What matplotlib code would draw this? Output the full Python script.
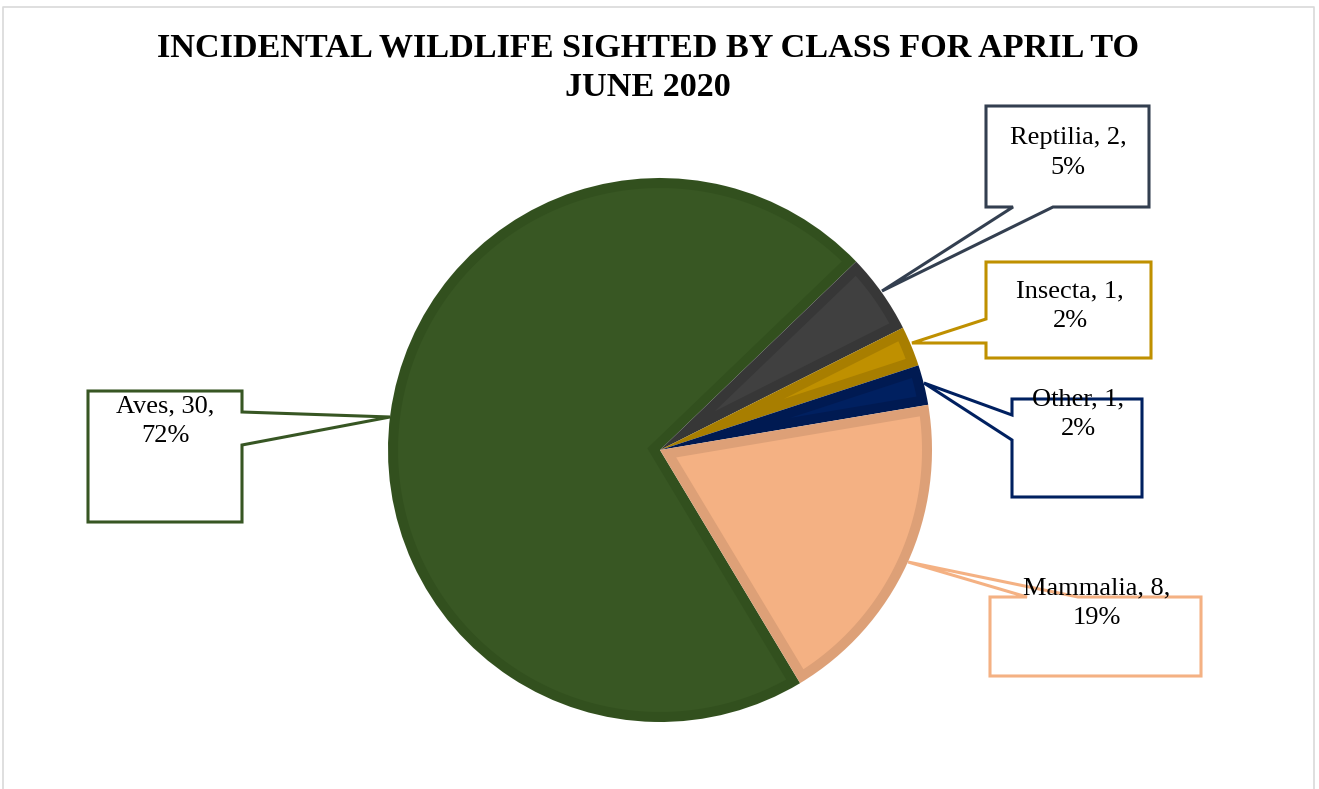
import numpy as np
import matplotlib.pyplot as plt
from matplotlib.patches import Polygon

W, H = 1319, 789

classes = ["Aves", "Reptilia", "Insecta", "Other", "Mammalia"]
counts = [30, 2, 1, 1, 8]
pct_labels = ["72%", "5%", "2%", "2%", "19%"]

fill_colors = ["#385723", "#404040", "#bf9000", "#002060", "#f4b183"]
rim_colors = ["#32501e", "#373737", "#a87e00", "#001a52", "#dda077"]
box_colors = ["#375623", "#333f50", "#bf9000", "#002060", "#f4b183"]

# callout layout in screen pixels (y down):
# box x0, y0, x1, y1, side of the pointer, pointer ends a, b, tip, text centre x, first line y
callouts = [
    (88, 391, 242, 522, 'right', 412, 445, (390, 417), 165, 403),
    (986, 106, 1149, 207, 'bottom', 1013, 1053, (882, 291), 1068, 135),
    (986, 262, 1151, 358, 'left', 319, 343, (912, 343), 1070, 288),
    (1012, 399, 1142, 497, 'left', 415, 440, (924, 383), 1078, 396),
    (990, 597, 1201, 676, 'top', 1027, 1078, (908, 562), 1097, 585),
]

plt.rcParams['font.family'] = ['Liberation Serif', 'DejaVu Serif']

fig = plt.figure(figsize=(W / 100, H / 100), dpi=100)
ax = fig.add_axes([0, 0, 1, 1])


def fy(y):
    return H - y


cx, cy, R = 660, fy(450), 272
rim = 10

wedges, _ = ax.pie(counts, colors=rim_colors, startangle=301, counterclock=False,
                   center=(cx, cy), radius=R, frame=True,
                   wedgeprops=dict(linewidth=0))

# lighter inner face of each slice, inset by the rim width
for w, fc in zip(wedges, fill_colors):
    t1, t2 = np.radians(w.theta1), np.radians(w.theta2)
    half = (t2 - t1) / 2
    mid = t1 + half
    shift = rim / np.sin(half)
    apex = (cx + shift * np.cos(mid), cy + shift * np.sin(mid))
    da = np.arcsin(rim / (R - rim))
    ang = np.linspace(t1 + da, t2 - da, 200)
    pts = [apex] + list(zip(cx + (R - rim) * np.cos(ang), cy + (R - rim) * np.sin(ang)))
    ax.add_patch(Polygon(pts, closed=True, facecolor=fc, edgecolor='none'))


def callout_path(x0, y0, x1, y1, side, a, b, tip):
    if side == 'top':
        pts = [(x0, y0), (a, y0), tip, (b, y0), (x1, y0), (x1, y1), (x0, y1)]
    elif side == 'right':
        pts = [(x0, y0), (x1, y0), (x1, a), tip, (x1, b), (x1, y1), (x0, y1)]
    elif side == 'bottom':
        pts = [(x0, y0), (x1, y0), (x1, y1), (b, y1), tip, (a, y1), (x0, y1)]
    else:
        pts = [(x0, y0), (x1, y0), (x1, y1), (x0, y1), (x0, b), tip, (x0, a)]
    return [(px, fy(py)) for px, py in pts]


for name, n, pct, col, c in zip(classes, counts, pct_labels, box_colors, callouts):
    x0, y0, x1, y1, side, a, b, tip, tx, ty = c
    poly = Polygon(callout_path(x0, y0, x1, y1, side, a, b, tip), closed=True,
                   facecolor='white', edgecolor=col, linewidth=2.2, joinstyle='miter')
    ax.add_patch(poly)
    ax.text(tx, fy(ty + 18), f"{name}, {n},\n{pct}", ha='center', va='center',
            fontsize=19, color='black', linespacing=1.45)

ax.text(648, fy(68), "INCIDENTAL WILDLIFE SIGHTED BY CLASS FOR APRIL TO\nJUNE 2020",
        ha='center', va='center', fontsize=24.6, fontweight='bold', linespacing=1.35)

# chart area frame
ax.plot([3, 3, 1314, 1314], [fy(800), fy(7), fy(7), fy(800)], color='#d9d9d9', lw=1.2)

ax.set_xlim(0, W)
ax.set_ylim(0, H)
ax.axis('off')

fig.savefig('out.png', dpi=100)
